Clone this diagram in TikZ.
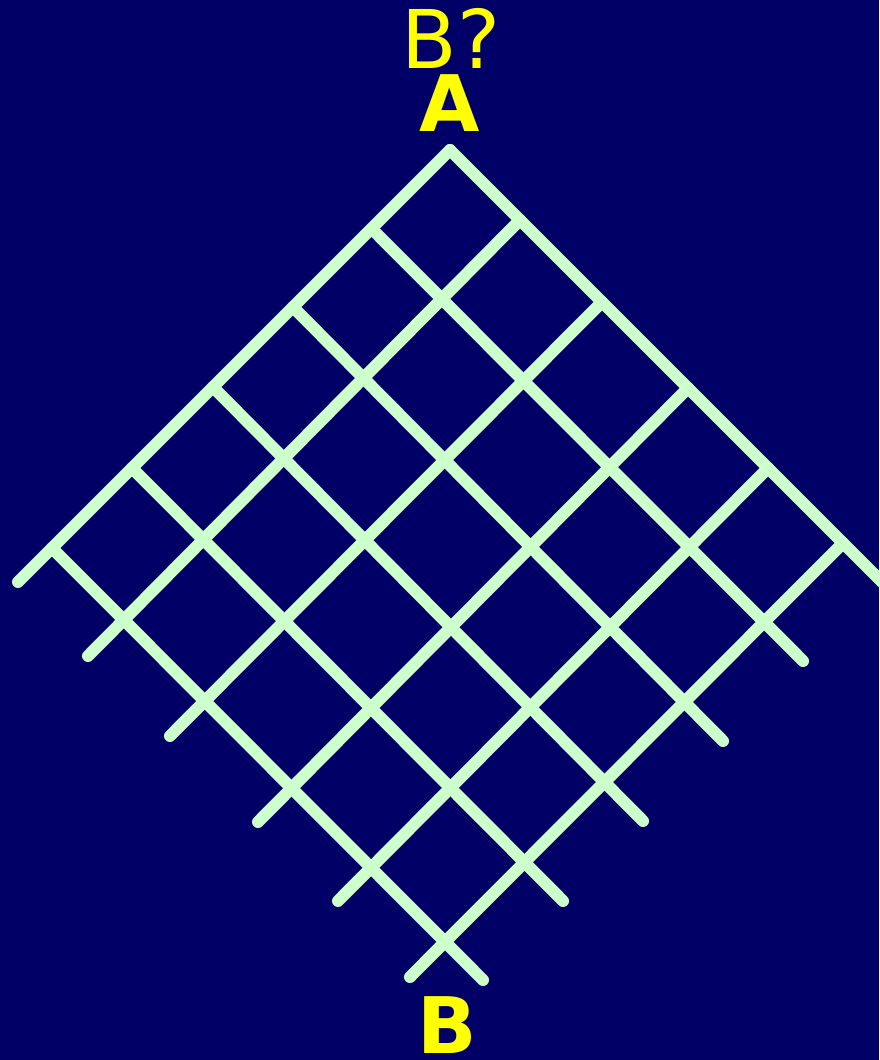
\documentclass[tikz,border=0pt]{standalone}
\usepackage{fontspec}
\setmainfont{DejaVu Sans}
\definecolor{bg}{RGB}{0,0,102}
\definecolor{gc}{RGB}{204,255,204}
\definecolor{tc}{RGB}{255,255,0}
\tikzset{wire/.style={draw=gc,line width=12pt,line cap=round},
 lab/.style={text=tc,inner sep=0pt,anchor=base,font=\fontsize{81}{81}\selectfont},
 blab/.style={lab,font=\fontsize{78}{78}\selectfont\bfseries}}
\begin{document}
\begin{tikzpicture}[x=1pt,y=-1pt]
\fill[bg] (0,0) rectangle (879,1060);
\useasboundingbox (0,0) rectangle (879,1060);
% corner and the two families of lines
\coordinate (d0) at (450,150);\coordinate (d1) at (372,229);\coordinate (d2) at (293,307);
\coordinate (d3) at (213,387);\coordinate (d4) at (132,468);\coordinate (d5) at (52,548);
\coordinate (u1) at (520,220);\coordinate (u2) at (602,302);\coordinate (u3) at (688,388);
\coordinate (u4) at (768,468);\coordinate (u5) at (843,543);
\coordinate (de0) at (895,595);\coordinate (de1) at (803,661);\coordinate (de2) at (723,741);
\coordinate (de3) at (643,821);\coordinate (de4) at (563,901);\coordinate (de5) at (483,980);
\coordinate (ue0) at (18,582);\coordinate (ue1) at (88,656);\coordinate (ue2) at (170,736);
\coordinate (ue3) at (258,822);\coordinate (ue4) at (338,901);\coordinate (ue5) at (410,977);
\draw[wire] (d0)--(de0);\draw[wire] (d1)--(de1);\draw[wire] (d2)--(de2);
\draw[wire] (d3)--(de3);\draw[wire] (d4)--(de4);\draw[wire] (d5)--(de5);
\draw[wire] (d0)--(ue0);\draw[wire] (u1)--(ue1);\draw[wire] (u2)--(ue2);
\draw[wire] (u3)--(ue3);\draw[wire] (u4)--(ue4);\draw[wire] (u5)--(ue5);
% labels
\node[lab] (q) at (451,68) {B?};
\node[blab] (a) at (450,131) {A};
\node[blab] (b) at (447,1053) {B};
\end{tikzpicture}
\end{document}
